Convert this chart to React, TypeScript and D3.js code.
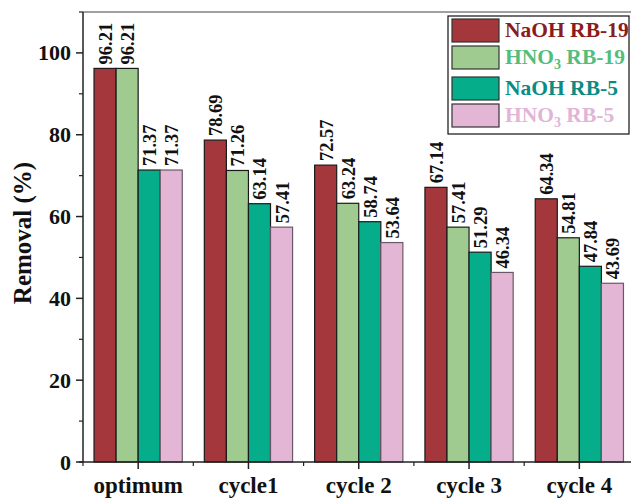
import React from "react";
import * as d3 from "d3";

const categories = ["optimum", "cycle1", "cycle 2", "cycle 3", "cycle 4"];
const seriesNames = ["NaOH RB-19", "HNO3 RB-19", "NaOH RB-5", "HNO3 RB-5"];
const naohRB19 = [96.21, 78.69, 72.57, 67.14, 64.34];
const hno3RB19 = [96.21, 71.26, 63.24, 57.41, 54.81];
const naohRB5 = [71.37, 63.14, 58.74, 51.29, 47.84];
const hno3RB5 = [71.37, 57.41, 53.64, 46.34, 43.69];
const yMajorTicks = [0, 20, 40, 60, 80, 100];
const yMinorTicks = [10, 30, 50, 70, 90, 110];

const series = [naohRB19, hno3RB19, naohRB5, hno3RB5];
const fills = ["#a4373b", "#9fca90", "#05ad8a", "#e3b6d6"];
const strokes = ["#1a1a1a", "#1a1a1a", "#1a1a1a", "#6a5868"];
const textColors = ["#8a1c20", "#55bd7c", "#0b8b84", "#e2b4d6"];

const W = 631, H = 498;
const left = 83, top = 12, bottom = 462, right = 634.5;
const font = "'Liberation Serif', 'Times New Roman', serif";

export default function App() {
  const x = d3.scaleBand<string>().domain(categories).range([left, right]).padding(0);
  const inner = d3.scaleBand<number>().domain(d3.range(series.length)).range([0, x.bandwidth() * 0.8]).padding(0);
  const y = d3.scaleLinear().domain([0, 110]).range([bottom, top]);
  const off = x.bandwidth() * 0.1;

  const legendX = 448, legendY = 16;
  const swatchY = [19, 46, 77, 104];

  return (
    <svg width={W} height={H} style={{ position: "absolute", left: 0, top: 0 }} fontFamily={font}>
      <rect x={0} y={0} width={W} height={H} fill="#fff" />
      {/* bars */}
      {categories.map((c, ci) => (
        <g key={c}>
          {series.map((s, si) => {
            const bx = (x(c) as number) + off + (inner(si) as number);
            const by = y(s[ci]);
            return (
              <g key={si}>
                <rect x={bx} y={by} width={inner.bandwidth()} height={bottom - by}
                  fill={fills[si]} stroke={strokes[si]} strokeWidth={1.2} />
                <text transform={`translate(${bx + inner.bandwidth() / 2 + 1},${by - 4}) rotate(-90)`}
                  dominantBaseline="central" fontSize={18.5} fontWeight="bold" fill="#111">
                  {s[ci].toFixed(2)}
                </text>
              </g>
            );
          })}
        </g>
      ))}
      {/* top border */}
      <line x1={left} x2={W} y1={top} y2={top} stroke="#808080" strokeWidth={1.5} />
      {/* left axis */}
      <line x1={left} x2={left} y1={top} y2={bottom} stroke="#222" strokeWidth={1.5} />
      {yMajorTicks.map((t) => (
        <g key={t}>
          <line x1={left - 7} x2={left} y1={y(t)} y2={y(t)} stroke="#222" strokeWidth={1.5} />
          <text x={left - 12} y={y(t)} textAnchor="end" dominantBaseline="central" fontSize={22} fontWeight="bold" fill="#111">
            {t}
          </text>
        </g>
      ))}
      {yMinorTicks.map((t) => (
        <line key={t} x1={left - 4} x2={left} y1={y(t)} y2={y(t)} stroke="#222" strokeWidth={1.2} />
      ))}
      {/* bottom axis */}
      <line x1={left - 4} x2={W} y1={bottom} y2={bottom} stroke="#222" strokeWidth={1.5} />
      {categories.map((c) => {
        const cx = (x(c) as number) + x.bandwidth() / 2;
        return (
          <g key={c}>
            <line x1={cx} x2={cx} y1={bottom} y2={bottom + 7} stroke="#222" strokeWidth={1.5} />
            <line x1={x(c) as number} x2={x(c) as number} y1={bottom} y2={bottom + 4} stroke="#222" strokeWidth={1.2} />
            <text x={cx} y={493} textAnchor="middle" fontSize={23} fontWeight="bold" fill="#111">{c}</text>
          </g>
        );
      })}
      {/* y label */}
      <text transform={`translate(22,${(top + bottom) / 2 - 4}) rotate(-90)`} textAnchor="middle"
        dominantBaseline="central" fontSize={25} fontWeight="bold" fill="#111">
        Removal (%)
      </text>
      {/* legend */}
      <rect x={legendX} y={legendY} width={181} height={118} fill="#fff" stroke="#111" strokeWidth={1.2} />
      {seriesNames.map((n, i) => {
        const isHNO = n.startsWith("HNO3");
        const rest = n.replace(/^(NaOH|HNO3) /, "");
        return (
          <g key={n}>
            <rect x={452} y={swatchY[i]} width={47} height={23} fill={fills[i]} stroke="#333" strokeWidth={1.2} />
            <text x={505} y={swatchY[i] + 18} fontSize={21.5} fontWeight="bold" fill={textColors[i]}>
              {isHNO ? (
                <>
                  HNO<tspan fontSize={14} dy={5}>3</tspan>
                  <tspan dy={-5}> {rest}</tspan>
                </>
              ) : (
                n
              )}
            </text>
          </g>
        );
      })}
    </svg>
  );
}
